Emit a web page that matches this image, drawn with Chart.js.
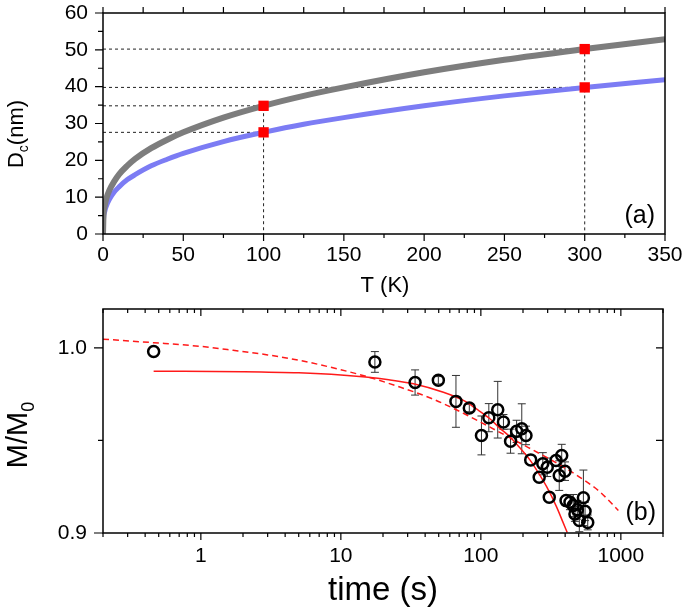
<!DOCTYPE html>
<html>
<head>
<meta charset="utf-8">
<script src="https://cdn.jsdelivr.net/npm/chart.js@4.4.1/dist/chart.umd.min.js"></script>
<style>
  body { margin: 0; background: #fff; }
  canvas { position: absolute; left: 0; }
  #panelA { top: 0; }
  #panelB { top: 300px; }
</style>
</head>
<body>
<canvas id="panelA" width="685" height="300"></canvas>
<canvas id="panelB" width="685" height="310"></canvas>
<script>
// ===== panel (a): Dc vs T =====
const tempK  = [0, 0.3, 1, 2, 4, 7, 10, 15, 20, 30, 40, 50, 75, 100, 125, 150, 200, 250, 300, 350];
const dcGray = [0, 5.0, 7.5, 9.5, 11.9, 14.3, 16.2, 18.5, 20.4, 23.3, 25.6, 27.6, 31.6, 34.8, 37.5, 39.8, 43.9, 47.3, 50.2, 52.9];
const dcBlue = [0, 4.0, 6.0, 7.5, 9.4, 11.4, 12.8, 14.7, 16.1, 18.5, 20.3, 21.9, 25.1, 27.6, 29.8, 31.6, 34.8, 37.5, 39.8, 41.9];
const markT    = [100, 300];
const markGray = [34.8, 50.2];
const markBlue = [27.6, 39.8];

// ===== panel (b): M/M0 vs time =====
const timeS  = [0.46, 17.5, 33.9, 49.7, 66.4, 82.7, 101, 114, 132, 145, 163, 180, 196, 210, 227, 261, 277, 298, 308, 344, 363, 378, 399, 406, 433, 457, 470, 489, 505, 540, 555, 580];
const mRatio = [0.998, 0.9924, 0.9813, 0.9825, 0.9711, 0.9675, 0.9527, 0.9623, 0.9666, 0.960, 0.9496, 0.9549, 0.9563, 0.9527, 0.9395, 0.9301, 0.9374, 0.9355, 0.9193, 0.9392, 0.931, 0.9419, 0.9334, 0.9175, 0.9166, 0.9148, 0.9103, 0.9125, 0.9067, 0.9190, 0.9117, 0.9057];
const mErr   = [0, 0.0056, 0.0068, 0.002, 0.014, 0.002, 0.0105, 0.0076, 0.0153, 0.004, 0.0065, 0.006, 0.0135, 0.005, 0, 0, 0.006, 0.005, 0, 0, 0.008, 0.006, 0.005, 0, 0.004, 0.006, 0.004, 0.005, 0.006, 0.015, 0.005, 0.004];
const solidT = [0.46, 2, 5, 10, 15, 22, 33, 54, 75, 93, 115, 137, 161, 190, 224, 260, 295, 348, 385, 414];
const solidM = [0.9874, 0.9871, 0.9865, 0.9854, 0.9843, 0.9828, 0.9806, 0.976, 0.9716, 0.967, 0.962, 0.9565, 0.952, 0.946, 0.9395, 0.932, 0.925, 0.914, 0.906, 0.9003];
const dashT  = [0.2, 0.46, 1, 1.7, 3, 5.2, 10, 15.3, 26, 44, 65, 100, 150, 200, 300, 433, 560, 709, 960];
const dashM  = [1.0047, 1.0028, 1.0008, 0.9987, 0.9962, 0.9931, 0.9882, 0.9845, 0.979, 0.9728, 0.967, 0.9598, 0.9527, 0.9477, 0.9405, 0.9335, 0.928, 0.9222, 0.9122];
const timeTicks = [1, 10, 100, 1000];
const mTicks    = [0.9, 1.0];

const FONT = '"Liberation Sans", Arial, sans-serif';
Chart.defaults.font.family = FONT;
Chart.defaults.color = '#000';

const pts = (xs, ys) => xs.map((x, i) => ({ x: x, y: ys[i] }));

function fixY(w) {
  return s => { s.width = w; s.paddingTop = 0; s.paddingBottom = 0; };
}
function fixX(h) {
  return s => { s.height = h; s.paddingLeft = 0; s.paddingRight = 0; };
}

function tick(ctx, x1, y1, x2, y2) { ctx.moveTo(x1, y1); ctx.lineTo(x2, y2); }

// --- dashed guide lines from the red markers
const guides = [];
markT.forEach((t, i) => {
  guides.push(pts([0, t], [markBlue[i], markBlue[i]]));
  guides.push(pts([0, t, t], [markGray[i], markGray[i], 0]));
});

const guideSets = guides.map(g => ({
  data: g, showLine: true, pointRadius: 0, borderColor: '#222',
  borderWidth: 1, borderDash: [3, 3], order: 5
}));

const decorA = {
  id: 'decorA',
  afterDraw(chart) {
    const { ctx, chartArea: a, scales: { x, y } } = chart;
    ctx.save();
    ctx.strokeStyle = '#000';
    ctx.lineWidth = 1.5;
    ctx.strokeRect(a.left, a.top, a.right - a.left, a.bottom - a.top);
    ctx.lineWidth = 1.2;
    ctx.beginPath();
    for (let v = 0; v <= 350; v += 25) {
      const px = x.getPixelForValue(v);
      const major = v % 50 === 0;
      tick(ctx, px, a.bottom, px, a.bottom + (major ? 7 : 4));
      tick(ctx, px, a.top, px, a.top - 6);
    }
    for (let v = 0; v <= 60; v += 5) {
      const py = y.getPixelForValue(v);
      tick(ctx, a.left, py, a.left - (v % 10 === 0 ? 8 : 5), py);
    }
    ctx.stroke();

    ctx.fillStyle = '#000';
    ctx.textBaseline = 'alphabetic';
    ctx.font = '22px ' + FONT;
    ctx.textAlign = 'center';
    ctx.fillText('T (K)', 385, 292);
    ctx.font = '25px ' + FONT;
    ctx.textAlign = 'right';
    ctx.fillText('(a)', 655, 223);

    // y title D_c(nm)
    ctx.translate(23, 134);
    ctx.rotate(-Math.PI / 2);
    ctx.textAlign = 'left';
    ctx.font = '22px ' + FONT;
    const wD = ctx.measureText('D').width;
    const wRest = ctx.measureText('(nm)').width;
    ctx.font = '14px ' + FONT;
    const wc = ctx.measureText('c').width;
    let x0 = -(wD + wc + wRest) / 2;
    ctx.font = '22px ' + FONT;
    ctx.fillText('D', x0, 0);
    ctx.font = '14px ' + FONT;
    ctx.fillText('c', x0 + wD, 5);
    ctx.font = '22px ' + FONT;
    ctx.fillText('(nm)', x0 + wD + wc, 0);
    ctx.restore();
  }
};

new Chart(document.getElementById('panelA'), {
  type: 'scatter',
  data: {
    datasets: [
      { data: pts(markT, markGray).concat(pts(markT, markBlue)), pointStyle: 'rect',
        pointRadius: 7.3, backgroundColor: '#ff0000', borderWidth: 0, order: 0 },
      { data: pts(tempK, dcGray), showLine: true, pointRadius: 0, borderColor: '#7d7d7d',
        borderWidth: 6, cubicInterpolationMode: 'monotone', order: 1 },
      { data: pts(tempK, dcBlue), showLine: true, pointRadius: 0, borderColor: '#7c7cf4',
        borderWidth: 5, cubicInterpolationMode: 'monotone', order: 2 },
      ...guideSets
    ]
  },
  options: {
    responsive: false,
    animation: false,
    layout: { padding: { top: 13, right: 20, left: 0, bottom: 0 } },
    plugins: { legend: { display: false }, tooltip: { enabled: false } },
    scales: {
      x: {
        type: 'linear', min: 0, max: 350,
        grid: { display: false, drawTicks: false },
        border: { display: false },
        ticks: { stepSize: 50, font: { size: 21 }, padding: 9, maxRotation: 0, autoSkip: false },
        afterFit: fixX(66)
      },
      y: {
        type: 'linear', min: 0, max: 60,
        grid: { display: false, drawTicks: false },
        border: { display: false },
        ticks: { stepSize: 10, font: { size: 21 }, padding: 15 },
        afterFit: fixY(103)
      }
    }
  },
  plugins: [decorA]
});

// ===== panel (b) =====
const errorBars = {
  id: 'errorBars',
  beforeDatasetsDraw(chart) {
    const { ctx, chartArea: a, scales: { x, y } } = chart;
    ctx.save();
    ctx.beginPath();
    ctx.rect(a.left, a.top, a.right - a.left, a.bottom - a.top);
    ctx.clip();
    ctx.strokeStyle = '#333';
    ctx.lineWidth = 1;
    ctx.beginPath();
    timeS.forEach((t, i) => {
      if (!mErr[i]) return;
      const px = x.getPixelForValue(t);
      const hi = y.getPixelForValue(mRatio[i] + mErr[i]);
      const lo = y.getPixelForValue(mRatio[i] - mErr[i]);
      tick(ctx, px, hi, px, lo);
      tick(ctx, px - 4, hi, px + 4, hi);
      tick(ctx, px - 4, lo, px + 4, lo);
    });
    ctx.stroke();
    ctx.restore();
  }
};

const decorB = {
  id: 'decorB',
  afterDraw(chart) {
    const { ctx, chartArea: a, scales: { x, y } } = chart;
    ctx.save();
    ctx.strokeStyle = '#000';
    ctx.lineWidth = 1.5;
    ctx.strokeRect(a.left, a.top, a.right - a.left, a.bottom - a.top);
    ctx.lineWidth = 1.2;
    ctx.beginPath();
    [0.1, 1, 10, 100, 1000].forEach(d => {
      for (let k = 1; k <= 9; k++) {
        const v = k * d;
        if (v < 0.2 || v > 2000) continue;
        const px = x.getPixelForValue(v);
        const len = k === 1 ? 7 : 4;
        tick(ctx, px, a.bottom, px, a.bottom + len);
        tick(ctx, px, a.top, px, a.top + len);
      }
    });
    [0.9, 0.95, 1.0].forEach(v => {
      const py = y.getPixelForValue(v);
      const len = v === 0.95 ? 5 : 9;
      tick(ctx, a.left, py, a.left - len, py);
      if (v !== 0.9) tick(ctx, a.right, py, a.right - 7, py);
    });
    ctx.stroke();

    ctx.fillStyle = '#000';
    ctx.font = '33px ' + FONT;
    ctx.textAlign = 'center';
    ctx.fillText('time (s)', 383, 300);
    ctx.font = '25px ' + FONT;
    ctx.textAlign = 'right';
    ctx.fillText('(b)', 656, 220);

    // y title M/M0
    ctx.translate(27, 135);
    ctx.rotate(-Math.PI / 2);
    ctx.textAlign = 'left';
    ctx.font = '29px ' + FONT;
    const wM = ctx.measureText('M/M').width;
    ctx.font = '18px ' + FONT;
    const w0 = ctx.measureText('0').width;
    const x0 = -(wM + w0) / 2;
    ctx.font = '29px ' + FONT;
    ctx.fillText('M/M', x0, 0);
    ctx.font = '18px ' + FONT;
    ctx.fillText('0', x0 + wM, 7);
    ctx.restore();
  }
};

new Chart(document.getElementById('panelB'), {
  type: 'scatter',
  data: {
    datasets: [
      { data: pts(timeS, mRatio), pointStyle: 'circle', pointRadius: 5.5,
        borderColor: '#000', borderWidth: 2.5, backgroundColor: 'rgba(0,0,0,0)', order: 0 },
      { data: pts(solidT, solidM), showLine: true, pointRadius: 0, borderColor: '#ff1a1a',
        borderWidth: 1.5, cubicInterpolationMode: 'monotone', order: 1 },
      { data: pts(dashT, dashM), showLine: true, pointRadius: 0, borderColor: '#ff1a1a',
        borderWidth: 1.5, borderDash: [6, 4], cubicInterpolationMode: 'monotone', order: 2 }
    ]
  },
  options: {
    responsive: false,
    animation: false,
    layout: { padding: { top: 9, right: 22, left: 0, bottom: 0 } },
    plugins: { legend: { display: false }, tooltip: { enabled: false } },
    scales: {
      x: {
        type: 'logarithmic', min: 0.2, max: 2000,
        grid: { display: false, drawTicks: false },
        border: { display: false },
        afterBuildTicks: s => { s.ticks = timeTicks.map(v => ({ value: v })); },
        ticks: { font: { size: 21 }, padding: 11, maxRotation: 0, autoSkip: false,
                 callback: v => String(v) },
        afterFit: fixX(77)
      },
      y: {
        type: 'linear', min: 0.9, max: 1.021,
        grid: { display: false, drawTicks: false },
        border: { display: false },
        afterBuildTicks: s => { s.ticks = mTicks.map(v => ({ value: v })); },
        ticks: { font: { size: 21 }, padding: 16, callback: v => Number(v).toFixed(1) },
        afterFit: fixY(103)
      }
    }
  },
  plugins: [errorBars, decorB]
});
</script>
</body>
</html>
